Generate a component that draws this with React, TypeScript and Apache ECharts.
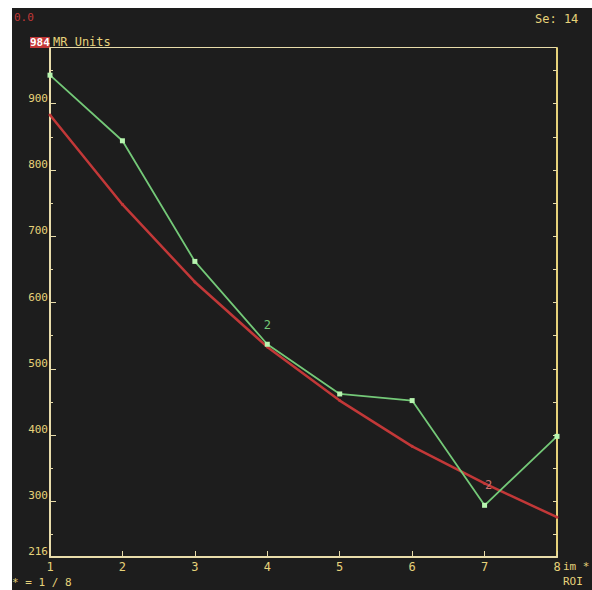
import React, { useEffect, useRef } from "react";
import * as echarts from "echarts";

// Echo index along x, signal intensity (MR units) along y
const echoes = [1, 2, 3, 4, 5, 6, 7, 8];
const measured = [943, 844, 662, 537, 462, 452, 294, 398];
const fitted = [883, 748, 631, 533, 452, 383, 327, 276];
const yMin = 216;
const yMax = 984;
const yMajor = [300, 400, 500, 600, 700, 800, 900];
const yMinor = [250, 350, 450, 550, 650, 750, 850, 950];

const YEL = "#e6d27a";
const FRAME = "#e8dcaa";
const RED = "#c23838";
const GREEN = "#74c978";
const FONT = "DejaVu Sans Mono";

export default function App() {
  const ref = useRef<HTMLDivElement>(null);
  useEffect(() => {
    const chart = echarts.init(ref.current!, null, { renderer: "svg" });
    const greenData = echoes.map((x, i) =>
      i === 3
        ? {
            value: [x, measured[i]],
            label: { show: true, formatter: "2", color: GREEN, offset: [0, -6], fontSize: 12, fontFamily: FONT },
          }
        : [x, measured[i]]
    );
    const redData = echoes.map((x, i) =>
      i === 6
        ? {
            value: [x, fitted[i]],
            label: { show: true, formatter: "2", color: "#d07070", position: "right", offset: [-6, 2], fontSize: 12, fontFamily: FONT },
          }
        : [x, fitted[i]]
    );
    chart.setOption({
      animation: false,
      backgroundColor: "#1d1d1d",
      grid: { left: 38, top: 40, right: 35, bottom: 33 },
      xAxis: {
        type: "value",
        min: 1,
        max: 8,
        interval: 1,
        splitLine: { show: false },
        axisLine: { lineStyle: { color: FRAME, width: 2 } },
        axisTick: { inside: true, length: 6, lineStyle: { color: FRAME } },
        axisLabel: {
          margin: 4,
          fontFamily: FONT,
          fontSize: 12,
          color: (v: number) => (v === 1 || v === 8 ? RED : YEL),
        },
      },
      yAxis: [
        {
          type: "value",
          min: yMin,
          max: yMax,
          splitLine: { show: false },
          axisLine: { lineStyle: { color: FRAME, width: 2 } },
          axisTick: { inside: true, length: 6, customValues: yMajor, lineStyle: { color: FRAME } },
          axisLabel: {
            customValues: [yMin, ...yMajor],
            margin: 2,
            fontFamily: FONT,
            fontSize: 11,
            verticalAlign: "bottom",
            color: (v: number) => (v === yMin ? RED : YEL),
          },
        },
        {
          type: "value",
          position: "left",
          min: yMin,
          max: yMax,
          splitLine: { show: false },
          axisLine: { show: false },
          axisTick: { inside: true, length: 3, customValues: yMinor, lineStyle: { color: FRAME } },
          axisLabel: { show: false },
        },
        {
          type: "value",
          position: "right",
          min: yMin,
          max: yMax,
          splitLine: { show: false },
          axisLine: { lineStyle: { color: YEL, width: 2 } },
          axisTick: { inside: true, length: 4, customValues: [...yMajor, ...yMinor], lineStyle: { color: FRAME } },
          axisLabel: { show: false },
        },
      ],
      series: [
        {
          type: "line",
          data: redData,
          symbol: "circle",
          symbolSize: 3,
          lineStyle: { color: RED, width: 2.5 },
          itemStyle: { color: RED },
          z: 2,
        },
        {
          type: "line",
          data: greenData,
          symbol: "rect",
          symbolSize: 5,
          lineStyle: { color: GREEN, width: 1.8 },
          itemStyle: { color: "#b8f5b0" },
          z: 3,
        },
      ],
      graphic: [
        { type: "rect", left: 38, top: 39, shape: { width: 507, height: 1 }, style: { fill: FRAME } },
        { type: "text", left: 2, top: 4, style: { text: "0.0", fill: RED, font: `11px '${FONT}'` } },
        { type: "text", left: 18, top: 29, style: { text: "984", fill: "#ffffff", backgroundColor: RED, font: `bold 11px '${FONT}'` } },
        { type: "text", left: 41, top: 28, style: { text: "MR Units", fill: YEL, font: `12px '${FONT}'` } },
        { type: "text", left: 523, top: 5, style: { text: "Se: 14", fill: YEL, font: `12px '${FONT}'` } },
        { type: "text", left: 0, top: 569, style: { text: "* = 1 / 8", fill: YEL, font: `11px '${FONT}'` } },
        { type: "text", left: 551, top: 553, style: { text: "im *", fill: YEL, font: `11px '${FONT}'` } },
        { type: "text", left: 551, top: 568, style: { text: "ROI", fill: YEL, font: `11px '${FONT}'` } },
      ],
    });
    return () => chart.dispose();
  }, []);
  return (
    <div
      ref={ref}
      style={{ position: "absolute", left: 12, top: 8, width: 580, height: 582 }}
    />
  );
}
